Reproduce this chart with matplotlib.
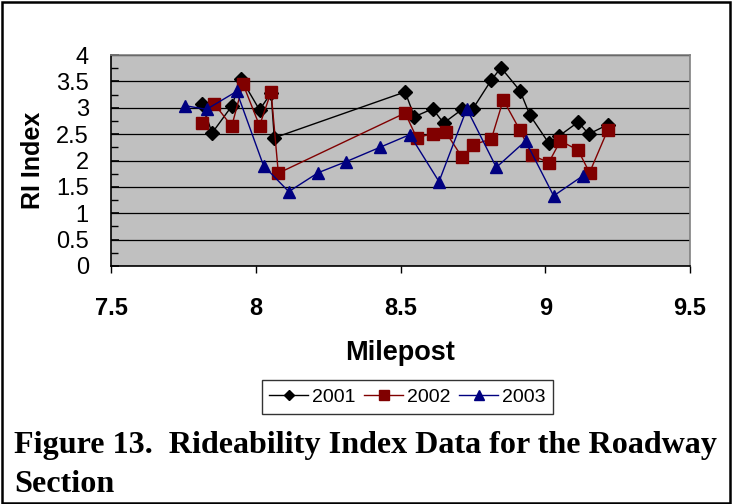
import matplotlib
matplotlib.use("Agg")
import matplotlib.pyplot as plt
from matplotlib.ticker import MultipleLocator
from matplotlib.patches import Rectangle

# ---- data ----
mp_2001 = [7.815, 7.849, 7.917, 7.950, 8.013, 8.053, 8.064, 8.516, 8.548, 8.611,
           8.649, 8.713, 8.750, 8.813, 8.847, 8.913, 8.947, 9.012, 9.049, 9.114,
           9.150, 9.216]
ri_2001 = [3.08, 2.52, 3.03, 3.55, 2.96, 3.28, 2.43, 3.30, 2.83, 2.98,
           2.71, 2.97, 2.98, 3.52, 3.76, 3.32, 2.86, 2.33, 2.47, 2.73,
           2.50, 2.68]

mp_2002 = [7.815, 7.856, 7.917, 7.956, 8.013, 8.053, 8.078, 8.516, 8.556, 8.611,
           8.656, 8.713, 8.752, 8.814, 8.855, 8.913, 8.955, 9.012, 9.052, 9.113,
           9.153, 9.216]
ri_2002 = [2.72, 3.08, 2.65, 3.45, 2.66, 3.30, 1.76, 2.90, 2.43, 2.51,
           2.54, 2.06, 2.30, 2.41, 3.15, 2.57, 2.10, 1.96, 2.37, 2.20,
           1.77, 2.58]

mp_2003 = [7.755, 7.830, 7.934, 8.027, 8.114, 8.216, 8.313, 8.429, 8.532, 8.633,
           8.729, 8.831, 8.932, 9.029, 9.130]
ri_2003 = [3.04, 2.97, 3.31, 1.90, 1.41, 1.77, 1.98, 2.25, 2.49, 1.60,
           2.98, 1.87, 2.37, 1.33, 1.71]

x_ticks = [7.5, 8, 8.5, 9, 9.5]
x_tick_labels = ["7.5", "8", "8.5", "9", "9.5"]
y_ticks = [0, 0.5, 1, 1.5, 2, 2.5, 3, 3.5, 4]
y_tick_labels = ["0", "0.5", "1", "1.5", "2", "2.5", "3", "3.5", "4"]

W, H = 733, 504
fig = plt.figure(figsize=(W / 100, H / 100), dpi=100)
sans = ["Liberation Sans", "DejaVu Sans"]
serif = ["Liberation Serif", "DejaVu Serif"]

# plot area in pixels
L, R, T, B = 111, 690, 55, 266
ax = fig.add_axes([L / W, 1 - B / H, (R - L) / W, (B - T) / H])
ax.set_facecolor("#C0C0C0")

ax.plot(mp_2001, ri_2001, color="black", lw=1.0, marker="D", ms=7,
        mfc="black", mec="black", label="2001", zorder=3)
ax.plot(mp_2002, ri_2002, color="#800000", lw=1.0, marker="s", ms=9,
        mfc="#800000", mec="#800000", label="2002", zorder=4)
ax.plot(mp_2003, ri_2003, color="#000080", lw=1.0, marker="^", ms=9,
        mfc="#000080", mec="#000080", label="2003", zorder=5)

ax.set_xlim(7.5, 9.5)
ax.set_ylim(0, 4)
ax.set_xticks(x_ticks)
ax.set_xticklabels(x_tick_labels, fontfamily=sans, fontweight="bold", fontsize=17)
ax.set_yticks(y_ticks)
ax.set_yticklabels(y_tick_labels, fontfamily=sans, fontsize=17)
ax.yaxis.set_minor_locator(MultipleLocator(0.25))
ax.tick_params(axis="y", which="major", direction="in", length=6, width=1.2, pad=16)
ax.tick_params(axis="y", which="minor", direction="in", length=5, width=1.0)
ax.tick_params(axis="x", which="major", direction="out", length=5, width=1.0, pad=17)

ax.grid(axis="y", which="major", color="black", lw=0.9)
ax.set_axisbelow(True)
for s in ["top", "right"]:
    ax.spines[s].set_color("#808080")
    ax.spines[s].set_linewidth(1.2)
for s in ["left", "bottom"]:
    ax.spines[s].set_color("black")
    ax.spines[s].set_linewidth(1.2)

ax.set_xlabel("Milepost", fontfamily=sans, fontweight="bold", fontsize=19.5, labelpad=15)
ax.set_ylabel("RI Index", fontfamily=sans, fontweight="bold", fontsize=18, labelpad=8)

leg = fig.legend(loc="center", bbox_to_anchor=(((262 + 553) / 2) / W, 1 - 397 / H),
                 ncol=3, frameon=True, fancybox=False, edgecolor="black",
                 prop={"family": sans, "size": 14}, handlelength=2.0,
                 handletextpad=0.2, columnspacing=0.45, borderpad=0.4,
                 borderaxespad=0.0, markerscale=0.75)
leg.get_frame().set_linewidth(1.0)

# caption
cap1 = fig.text(14 / W, 1 - 453 / H, "Figure 13.  Rideability Index Data for the Roadway",
                fontfamily=serif, fontweight="bold", fontsize=20, ha="left",
                va="baseline")
cap2 = fig.text(14 / W, 1 - 492 / H, "Section", fontfamily=serif, fontweight="bold",
                fontsize=20, ha="left", va="baseline")
fig.canvas.draw()
bb = cap1.get_window_extent()
scale = (718 - 14) / bb.width
cap1.set_fontsize(20 * scale)
cap2.set_fontsize(20 * scale)

# figure border
fig.patches.append(Rectangle((2 / W, 1.5 / H), (W - 5) / W, (H - 3.5) / H,
                             transform=fig.transFigure, fill=False,
                             edgecolor="black", lw=1.8))

fig.savefig("out.png", dpi=100)
